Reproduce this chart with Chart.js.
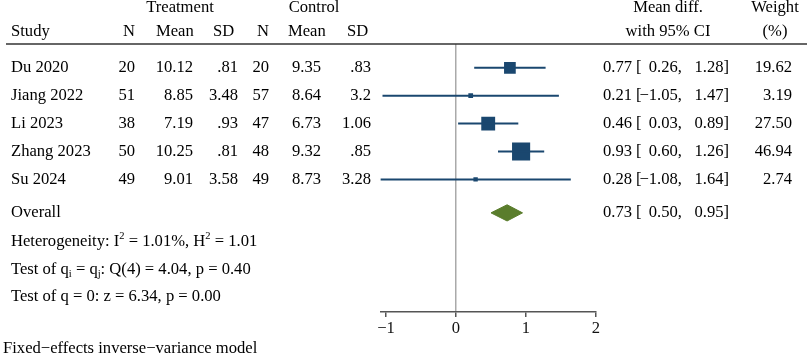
<!DOCTYPE html>
<html>
<head>
<title>Forest plot</title>
<meta charset="UTF-8">
<script src="https://cdn.jsdelivr.net/npm/chart.js@4.4.1/dist/chart.umd.min.js"></script>
<style>
 body{ margin:0; background:#ffffff; }
 #wrap{ width:809px; height:364px; }
</style>
</head>
<body>

<div id="wrap">
  <canvas id="forest" width="809" height="364"></canvas>
</div>

<script>
////////////////// data ////////////////////////////
var studies = ["Du 2020", "Jiang 2022", "Li 2023", "Zhang 2023", "Su 2024"];
var tN    = ["20", "51", "38", "50", "49"];
var tMean = ["10.12", "8.85", "7.19", "10.25", "9.01"];
var tSD   = [".81", "3.48", ".93", ".81", "3.58"];
var cN    = ["20", "57", "47", "48", "49"];
var cMean = ["9.35", "8.64", "6.73", "9.32", "8.73"];
var cSD   = [".83", "3.2", "1.06", ".85", "3.28"];
var md    = [0.77, 0.21, 0.46, 0.93, 0.28];
var lo    = [0.26, -1.05, 0.03, 0.60, -1.08];
var hi    = [1.28, 1.47, 0.89, 1.26, 1.64];
var weight = [19.62, 3.19, 27.50, 46.94, 2.74];

var overall = { md: 0.73, lo: 0.50, hi: 0.95 };
var xTicks = [-1, 0, 1, 2];

////////////////// look ////////////////////////////
var FONT = '"Liberation Serif", "Times New Roman", serif';
var FS = 16.6;
var NAVY = '#1a476f';
var GREEN = '#5a7d2c';
var overallRow = 6.2;   // row slot used for the overall diamond

function fmt(v){
    return v.toFixed(2).replace('-', '\u2212');
};

// rows are 1..5 (studies), overall below them
function rowOf(i){ return i + 1; };

var datasets = [];

// CI whiskers, one little line per study
for (var i = 0; i < studies.length; i++){
    datasets.push({
        type: 'line',
        data: [{x: lo[i], y: rowOf(i)}, {x: hi[i], y: rowOf(i)}],
        borderColor: NAVY,
        borderWidth: 2,
        pointRadius: 0,
        fill: false
    });
};

// boxes, area proportional to weight
datasets.push({
    type: 'scatter',
    data: md.map(function(v, i){ return {x: v, y: rowOf(i)}; }),
    pointStyle: 'rect',
    pointRadius: weight.map(function(w){ return 1.87 * Math.sqrt(w); }),
    pointHoverRadius: weight.map(function(w){ return 1.87 * Math.sqrt(w); }),
    backgroundColor: NAVY,
    borderWidth: 0
});

// overall diamond
var dh = 0.29;
datasets.push({
    type: 'line',
    data: [
        {x: overall.lo, y: overallRow},
        {x: overall.md, y: overallRow - dh},
        {x: overall.hi, y: overallRow},
        {x: overall.md, y: overallRow + dh},
        {x: overall.lo, y: overallRow}
    ],
    borderColor: GREEN,
    borderWidth: 1,
    backgroundColor: GREEN,
    pointRadius: 0,
    tension: 0,
    fill: 'shape'
});

// text pieces with sub / superscripts
function drawRich(ctx, x, y, parts){
    for (var k = 0; k < parts.length; k++){
        var p = parts[k];
        var dy = 0;
        if (p.sub){ ctx.font = '10.5px ' + FONT; dy = 4; }
        else if (p.sup){ ctx.font = '10.5px ' + FONT; dy = -6; }
        else { ctx.font = FS + 'px ' + FONT; }
        ctx.fillText(p.t, x, y + dy);
        x += ctx.measureText(p.t).width;
    }
};

function txt(ctx, s, x, y, align){
    ctx.textAlign = align || 'left';
    ctx.fillText(s, x, y);
};

var tablePlugin = {
    id: 'table',
    beforeDraw: function(chart){
        var ctx = chart.ctx;
        ctx.save();
        ctx.fillStyle = '#ffffff';
        ctx.fillRect(0, 0, chart.width, chart.height);
        ctx.restore();
    },
    afterDraw: function(chart){
        var ctx = chart.ctx;
        var ys = chart.scales.y;
        ctx.save();
        ctx.fillStyle = '#000000';
        ctx.textBaseline = 'middle';
        ctx.font = FS + 'px ' + FONT;

        // header
        txt(ctx, 'Treatment', 180, 8, 'center');
        txt(ctx, 'Control', 314, 8, 'center');
        txt(ctx, 'Mean diff.', 668, 8, 'center');
        txt(ctx, 'Weight', 775, 8, 'center');
        txt(ctx, 'Study', 11, 32);
        txt(ctx, 'N', 135, 32, 'right');
        txt(ctx, 'Mean', 156, 32);
        txt(ctx, 'SD', 213, 32);
        txt(ctx, 'N', 269, 32, 'right');
        txt(ctx, 'Mean', 288, 32);
        txt(ctx, 'SD', 347, 32);
        txt(ctx, 'with 95% CI', 668, 32, 'center');
        txt(ctx, '(%)', 775, 32, 'center');

        ctx.strokeStyle = '#333333';
        ctx.lineWidth = 1.5;
        ctx.beginPath();
        ctx.moveTo(6, 44);
        ctx.lineTo(807, 44);
        ctx.stroke();

        // study rows
        for (var i = 0; i < studies.length; i++){
            var y = ys.getPixelForValue(rowOf(i));
            txt(ctx, studies[i], 11, y);
            txt(ctx, tN[i], 135, y, 'right');
            txt(ctx, tMean[i], 193, y, 'right');
            txt(ctx, tSD[i], 238, y, 'right');
            txt(ctx, cN[i], 269, y, 'right');
            txt(ctx, cMean[i], 321, y, 'right');
            txt(ctx, cSD[i], 371, y, 'right');
            txt(ctx, md[i].toFixed(2), 632, y, 'right');
            txt(ctx, '[', 636, y);
            txt(ctx, fmt(lo[i]) + ',', 682, y, 'right');
            txt(ctx, fmt(hi[i]) + ']', 729, y, 'right');
            txt(ctx, weight[i].toFixed(2), 792, y, 'right');
        }

        // overall
        var yo = ys.getPixelForValue(overallRow);
        txt(ctx, 'Overall', 11, yo);
        txt(ctx, overall.md.toFixed(2), 632, yo, 'right');
        txt(ctx, '[', 636, yo);
        txt(ctx, fmt(overall.lo) + ',', 682, yo, 'right');
        txt(ctx, fmt(overall.hi) + ']', 729, yo, 'right');

        // heterogeneity + tests
        ctx.textAlign = 'left';
        drawRich(ctx, 11, ys.getPixelForValue(overallRow + 1.04), [
            {t: 'Heterogeneity: I'}, {t: '2', sup: true}, {t: ' = 1.01%, H'}, {t: '2', sup: true}, {t: ' = 1.01'}
        ]);
        drawRich(ctx, 11, ys.getPixelForValue(overallRow + 2.04), [
            {t: 'Test of q'}, {t: 'i', sub: true}, {t: ' = q'}, {t: 'j', sub: true}, {t: ': Q(4) = 4.04, p = 0.40'}
        ]);
        drawRich(ctx, 11, ys.getPixelForValue(overallRow + 3.0), [
            {t: 'Test of q = 0: z = 6.34, p = 0.00'}
        ]);

        ctx.font = FS + 'px ' + FONT;
        txt(ctx, 'Fixed\u2212effects inverse\u2212variance model', 3, 349);
        ctx.restore();
    }
};

var ctx = document.getElementById('forest').getContext('2d');
window.myForest = new Chart(ctx, {
    type: 'scatter',
    data: { datasets: datasets },
    plugins: [tablePlugin],
    options: {
        responsive: false,
        animation: false,
        events: [],
        layout: { padding: { left: 380.4, right: 213, top: 44, bottom: 0 } },
        plugins: { legend: { display: false }, tooltip: { enabled: false } },
        scales: {
            x: {
                type: 'linear',
                min: -1.08,
                max: 2,
                afterBuildTicks: function(s){
                    s.ticks = xTicks.map(function(v){ return {value: v}; });
                },
                afterFit: function(s){ s.height = 52; },
                border: { display: true, color: '#555555', width: 1.5 },
                grid: {
                    color: function(c){ return (c.tick && c.tick.value === 0) ? '#aaaaaa' : 'rgba(0,0,0,0)'; },
                    lineWidth: 1.5,
                    tickColor: '#555555',
                    tickLength: 5
                },
                ticks: {
                    color: '#111111',
                    padding: 2,
                    maxRotation: 0,
                    font: { family: FONT, size: FS },
                    callback: function(v){ return String(v).replace('-', '\u2212'); }
                }
            },
            y: {
                type: 'linear',
                display: false,
                reverse: true,
                min: 0.147,
                max: 9.753
            }
        }
    }
});
</script>

</body>
</html>
